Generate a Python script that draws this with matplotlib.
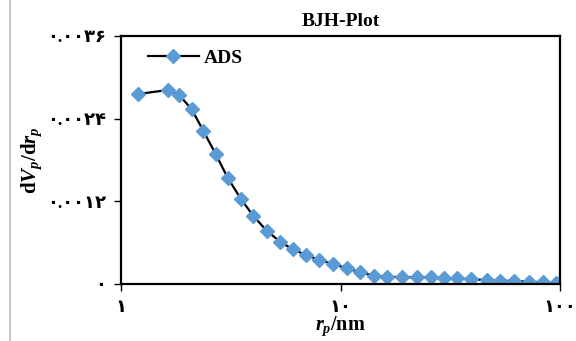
import numpy as np
import matplotlib
matplotlib.use("Agg")
import matplotlib.pyplot as plt
from matplotlib.lines import Line2D

plt.rcParams['font.family'] = ['Liberation Serif', 'DejaVu Sans']
plt.rcParams['mathtext.fontset'] = 'custom'
plt.rcParams['mathtext.rm'] = 'Liberation Serif:bold'
plt.rcParams['mathtext.bf'] = 'Liberation Serif:bold'
plt.rcParams['mathtext.it'] = 'Liberation Serif:italic:bold'

# pore radius (nm) and dV/dr values
rp = [1.20, 1.63, 1.84, 2.10, 2.37, 2.70, 3.06, 3.52, 4.01, 4.61, 5.30, 6.06,
      6.96, 8.01, 9.27, 10.67, 12.27, 14.14, 16.34, 19.00, 22.24, 25.76,
      29.61, 34.05, 39.20, 46.35, 53.30, 61.71, 72.46, 83.93, 95.9]
dvdr = [0.002758, 0.002816, 0.002744, 0.002536, 0.002225, 0.001887, 0.001543,
        0.001234, 0.000987, 0.000774, 0.000614, 0.000504, 0.000421, 0.000348,
        0.000290, 0.000228, 0.000170, 0.000123, 0.000106, 0.000097, 0.000097,
        0.000097, 0.000083, 0.000083, 0.000068, 0.000058, 0.000048, 0.000044,
        0.000033, 0.000025, 0.000010]

yticks = [0, 0.0012, 0.0024, 0.0036]
ylabels = ['۰', '۰.۰۰۱۲', '۰.۰۰۲۴', '۰.۰۰۳۶']
xticks = [1, 10, 100]
xlabels = ['۱', '۱۰', '۱۰۰']

fig = plt.figure(figsize=(5.76, 3.41), dpi=100)
ax = fig.add_axes([121/576, 57/341, 439/576, 248/341])

ax.plot(rp, dvdr, color='black', lw=1.6, marker='D', ms=7.5,
        mfc='#5B9BD5', mec='#5B9BD5', label='ADS')

ax.set_xscale('log')
ax.set_xlim(1, 100)
ax.set_ylim(0, 0.0036)
ax.set_xticks(xticks)
ax.set_xticklabels(xlabels)
ax.minorticks_off()
ax.set_yticks(yticks)
ax.set_yticklabels(ylabels)
ax.tick_params(direction='out', length=5, width=1, labelsize=13)
ax.tick_params(axis='y', pad=6)
ax.tick_params(axis='x', pad=6)
for lab in ax.get_xticklabels() + ax.get_yticklabels():
    lab.set_fontweight('bold')

for s in ax.spines.values():
    s.set_linewidth(1.6)

ax.set_title('BJH-Plot', fontsize=14, fontweight='bold', pad=7)
ax.set_xlabel(r'$r_p$/nm', fontsize=14.5, fontweight='bold', labelpad=-1)
ax.set_ylabel(r'd$V_p$/d$r_p$', fontsize=15, fontweight='bold', labelpad=2)

leg = ax.legend(loc='upper left', frameon=False, handlelength=2.6,
                handletextpad=0.25, bbox_to_anchor=(0.022, 1.018),
                prop={'weight': 'bold', 'size': 14})

# thin grey border line at the left edge
fig.add_artist(Line2D([10/576, 10/576], [0, 1], color='#bbbbbb', lw=1.2))

fig.savefig('out.png', dpi=100)
